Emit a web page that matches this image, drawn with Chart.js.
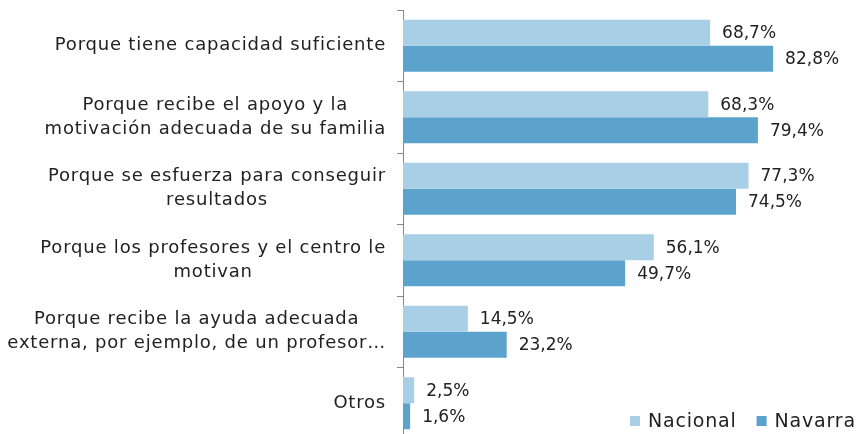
<!DOCTYPE html>
<html>
<head>
<meta charset="utf-8">
<script src="https://cdn.jsdelivr.net/npm/chart.js@4"></script>
<style>
  html, body { margin: 0; padding: 0; background: #fff; overflow: hidden; }
  #wrap { position: relative; width: 858px; height: 440px; }
</style>
</head>
<body>
<div id="wrap"><canvas id="chart"></canvas></div>
<script>
// Categories (multi-line labels as arrays)
const categories = [
  ['Porque tiene capacidad suficiente'],
  ['Porque recibe el apoyo y la', 'motivación adecuada de su familia'],
  ['Porque se esfuerza para conseguir', 'resultados'],
  ['Porque los profesores y el centro le', 'motivan'],
  ['Porque recibe la ayuda adecuada', 'externa, por ejemplo, de un profesor…'],
  ['Otros']
];
const nacional = [68.7, 68.3, 77.3, 56.1, 14.5, 2.5];
const navarra = [82.8, 79.4, 74.5, 49.7, 23.2, 1.6];
const seriesNames = ['Nacional', 'Navarra'];

const FONT = '"DejaVu Sans", sans-serif';
const TEXT = '#222222';
const AXIS = '#888888';

const fmt = v => v.toFixed(1).replace('.', ',') + '%';

// Category labels: block right-aligned to the axis, lines centred in the block
const categoryLabels = {
  id: 'categoryLabels',
  afterDraw(chart) {
    const { ctx } = chart;
    const yScale = chart.scales.y;
    const right = chart.chartArea.left - 17;
    const lineH = 24;
    ctx.save();
    ctx.font = '18px ' + FONT;
    ctx.letterSpacing = '0.8px';
    ctx.fillStyle = TEXT;
    ctx.textAlign = 'center';
    ctx.textBaseline = 'middle';
    categories.forEach((lines, i) => {
      const w = Math.max(...lines.map(l => ctx.measureText(l).width));
      const cx = right - w / 2;
      const cy = yScale.getPixelForValue(i);
      lines.forEach((l, j) => {
        ctx.fillText(l, cx, cy + (j - (lines.length - 1) / 2) * lineH);
      });
    });
    ctx.restore();
  }
};

// Value labels after each bar end
const valueLabels = {
  id: 'valueLabels',
  afterDatasetsDraw(chart) {
    const { ctx } = chart;
    ctx.save();
    ctx.font = '17px ' + FONT;
    ctx.fillStyle = TEXT;
    ctx.textAlign = 'left';
    ctx.textBaseline = 'middle';
    chart.data.datasets.forEach((ds, di) => {
      chart.getDatasetMeta(di).data.forEach((bar, i) => {
        ctx.fillText(fmt(ds.data[i]), bar.x + 12, bar.y + 1);
      });
    });
    ctx.restore();
  }
};

// Legend drawn over the lower-right corner of the plot
const cornerLegend = {
  id: 'cornerLegend',
  afterDraw(chart) {
    const { ctx } = chart;
    ctx.save();
    ctx.font = '19px ' + FONT;
    ctx.letterSpacing = '0.8px';
    ctx.textBaseline = 'middle';
    ctx.textAlign = 'left';
    let x = 630;
    const y = 421;
    chart.data.datasets.forEach(ds => {
      ctx.fillStyle = ds.backgroundColor;
      ctx.fillRect(x, y - 5, 10, 10);
      ctx.fillStyle = TEXT;
      ctx.fillText(ds.label, x + 18, y + 1);
      x += 18 + ctx.measureText(ds.label).width + 20;
    });
    ctx.restore();
  }
};

new Chart(document.getElementById('chart'), {
  type: 'bar',
  data: {
    labels: categories,
    datasets: [
      {
        label: seriesNames[0],
        data: nacional,
        backgroundColor: '#a9cfe6',
        categoryPercentage: 0.727,
        barPercentage: 1
      },
      {
        label: seriesNames[1],
        data: navarra,
        backgroundColor: '#5ba3cc',
        categoryPercentage: 0.727,
        barPercentage: 1
      }
    ]
  },
  options: {
    indexAxis: 'y',
    responsive: true,
    maintainAspectRatio: false,
    animation: false,
    layout: {
      padding: { top: 10, bottom: 1, right: 8, left: 0 }
    },
    scales: {
      x: {
        display: false,
        min: 0,
        max: 100
      },
      y: {
        offset: true,
        afterFit: (scale) => { scale.width = 403; },
        ticks: { display: false },
        grid: {
          display: true,
          offset: true,
          drawOnChartArea: false,
          drawTicks: true,
          tickLength: 6,
          color: AXIS
        },
        border: { display: true, color: AXIS, width: 1 }
      }
    },
    plugins: {
      legend: { display: false },
      tooltip: { enabled: false }
    }
  },
  plugins: [categoryLabels, valueLabels, cornerLegend]
});
</script>
</body>
</html>
